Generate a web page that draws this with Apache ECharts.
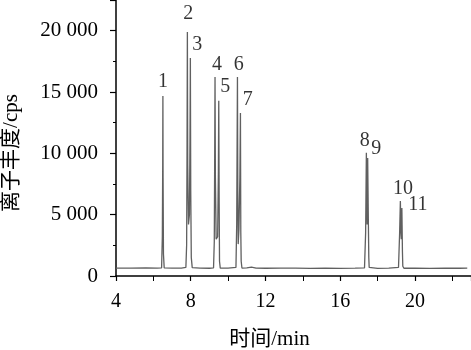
<!DOCTYPE html>
<html>
<head>
<meta charset="utf-8">
<script src="https://cdn.jsdelivr.net/npm/echarts@6/dist/echarts.min.js"></script>
<style>
html,body{margin:0;padding:0;background:#fff;}
#c{width:471px;height:350px;}
</style>
</head>
<body>
<div id="c"></div>
<script>
// Chromatogram trace (time in min, intensity in cps)
var traceTime = [4.0, 4.8, 5.6, 6.2, 6.44, 6.48, 6.50, 6.51, 6.52, 6.54, 6.58, 7.0, 7.5,
  7.74, 7.78, 7.80, 7.82, 7.84, 7.88, 7.93, 7.96, 7.98, 8.00, 8.03, 8.08, 8.5, 9.0,
  9.22, 9.26, 9.28, 9.30, 9.32, 9.36, 9.44, 9.48, 9.50, 9.52, 9.54, 9.58, 10.0,
  10.42, 10.46, 10.50, 10.52, 10.54, 10.58, 10.63, 10.66, 10.68, 10.70, 10.74, 11.0, 11.25, 11.35, 11.5, 12.0,
  12.8, 13.6, 14.4, 15.2, 16.0, 16.8, 17.3, 17.36, 17.40, 17.42, 17.44, 17.47, 17.51, 17.53, 17.55, 17.58, 17.64, 18.0, 18.6,
  19.12, 19.18, 19.22, 19.25, 19.27, 19.30, 19.33, 19.35, 19.37, 19.41, 19.5, 20.0, 20.8, 21.6, 22.4, 22.8, 23.0];
var traceIntensity = [650, 640, 660, 650, 660, 3200, 9000, 14670, 8000, 1800, 660, 640, 650,
  700, 2500, 9500, 19900, 9000, 4200, 5000, 11000, 17770, 7000, 1500, 680, 650, 630,
  660, 2800, 9000, 16220, 8000, 3000, 3200, 8500, 14290, 6500, 1200, 640, 650,
  700, 4200, 16220, 7000, 2600, 3800, 8000, 13280, 3500, 1200, 650, 660, 720, 690, 640, 630,
  650, 640, 620, 640, 620, 640, 660, 3500, 10050, 6500, 4200, 9620, 4000, 1500, 700, 640, 630, 620,
  640, 700, 3500, 6110, 3500, 3000, 5540, 2000, 800, 650, 630, 640, 630, 620, 640, 630, 640];

// Peak labels
var peakNames = ['1','2','3','4','5','6','7','8','9','10','11'];
var peakTimes = [6.51, 7.82, 7.98, 9.30, 9.52, 10.52, 10.68, 17.42, 17.55, 19.25, 19.35];
var peakHeights = [14670, 19900, 17770, 16220, 14290, 16220, 13280, 10050, 9620, 6110, 5540];

// x/y axis settings
var xMin = 4, xMax = 23, xInterval = 4;
var yMin = 0, yMax = 22500, yInterval = 5000;

// label offsets (style only)
var labelOffsets = [[0,-14],[1,-18],[7,-13],[2,-12],[6,-14],[1,-12],[7,-13],[-2,-12],[7,-9],[2,-12],[15,-3]];

var FONT = "'Liberation Serif','Noto Sans CJK SC',serif";
var lineData = traceTime.map(function(t,i){return [t, traceIntensity[i]];});
var labelData = peakTimes.map(function(t,i){
  return {value:[t, peakHeights[i]], name: peakNames[i],
    label:{offset: labelOffsets[i]}};
});

function fmt(v){
  if (v === 0) return '0';
  var s = String(v);
  return s.replace(/\B(?=(\d{3})+(?!\d))/g, ' ');
}

var chart = echarts.init(document.getElementById('c'), null, {renderer:'canvas'});
chart.setOption({
  animation:false,
  backgroundColor:'#fff',
  grid:{left:116, right:0, top:0, bottom:74, containLabel:false, outerBoundsMode:'none'},
  xAxis:{
    type:'value', min:xMin, max:xMax, interval:xInterval,
    name:'时间/min', nameLocation:'middle', nameGap:53,
    nameTextStyle:{fontFamily:FONT, fontSize:21, color:'#000', padding:[0,48,0,0]},
    axisLine:{show:true, onZero:false, lineStyle:{color:'#000', width:1.5}},
    axisTick:{show:true, inside:false, length:5, lineStyle:{color:'#000', width:1.2}},
    minorTick:{show:true, splitNumber:2, length:5, lineStyle:{color:'#000', width:1}},
    axisLabel:{fontFamily:FONT, fontSize:20, color:'#000', margin:16, showMaxLabel:false},
    splitLine:{show:false}
  },
  yAxis:{
    type:'value', min:yMin, max:yMax, interval:yInterval,
    name:'离子丰度/cps', nameLocation:'middle', nameGap:94,
    nameTextStyle:{fontFamily:FONT, fontSize:21, color:'#000', padding:[0,30,0,0]},
    axisLine:{show:true, lineStyle:{color:'#000', width:1.5}},
    axisTick:{show:true, inside:false, length:6, lineStyle:{color:'#000', width:1.2}},
    minorTick:{show:true, splitNumber:2, length:3, lineStyle:{color:'#000', width:1}},
    axisLabel:{fontFamily:FONT, fontSize:21, color:'#000', margin:18, showMaxLabel:false, formatter:fmt},
    splitLine:{show:false}
  },
  series:[
    {type:'line', data:lineData, showSymbol:false, symbol:'none', clip:false,
     lineStyle:{color:'#606060', width:1.3}, z:2},
    {type:'scatter', data:labelData, symbolSize:0.1, itemStyle:{color:'transparent'},
     label:{show:true, position:'inside', formatter:'{b}', fontFamily:FONT, fontSize:20, color:'#000'}, z:3}
  ]
});
</script>
</body>
</html>
